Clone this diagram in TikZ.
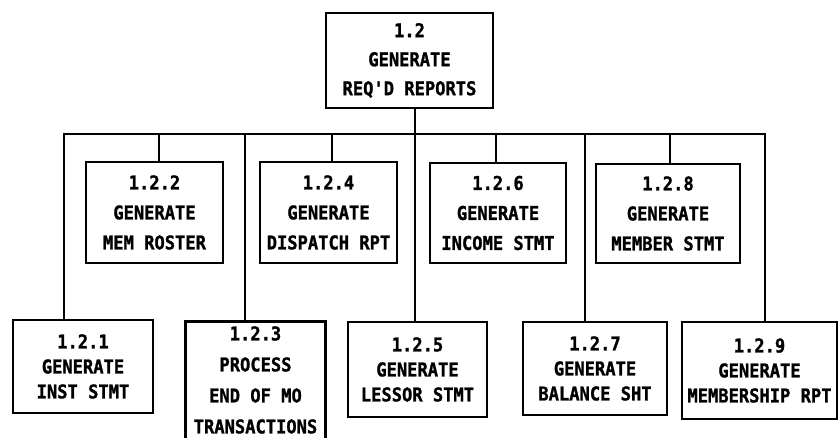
\documentclass[tikz,border=0pt]{standalone}
\usepackage{fontspec}
\newfontfamily\dmfont[FakeStretch=0.9,FakeBold=1.2]{DejaVu Sans Mono}
\begin{document}
\begin{tikzpicture}[x=1pt,y=-1pt,
  box/.style={draw, line width=2.8pt, align=center, inner sep=0pt,
    font=\dmfont\bfseries\fontsize{19}{30}\selectfont},
  topbox/.style={box, font=\dmfont\bfseries\fontsize{19}{29}\selectfont},
  lowbox/.style={box, font=\dmfont\bfseries\fontsize{19}{25}\selectfont},
  openbox/.style={align=center, inner sep=0pt,
    font=\dmfont\bfseries\fontsize{19}{31}\selectfont},
  wire/.style={line width=2.8pt}]
\useasboundingbox (0,0) rectangle (838,438);
\clip (0,0) rectangle (838,438);
% top
\node[topbox, minimum width=167pt, minimum height=95pt] (n12) at (409.5,60.5) {1.2\\GENERATE\\REQ'D REPORTS};
% upper row
\node[box, minimum width=137pt, minimum height=101pt] (n122) at (154.5,212.5) {1.2.2\\GENERATE\\MEM ROSTER};
\node[box, minimum width=137pt, minimum height=101pt] (n124) at (328.5,212.5) {1.2.4\\GENERATE\\DISPATCH RPT};
\node[box, minimum width=136pt, minimum height=100pt] (n126) at (498,213) {1.2.6\\GENERATE\\INCOME STMT};
\node[box, minimum width=144pt, minimum height=99pt] (n128) at (668,213.5) {1.2.8\\GENERATE\\MEMBER STMT};
% lower row
\node[lowbox, minimum width=140pt, minimum height=93pt] (n121) at (83,366.5) {1.2.1\\GENERATE\\INST STMT};
\node[openbox, minimum width=139pt, minimum height=116pt] (n123) at (255.5,380) {1.2.3\\PROCESS\\END OF MO\\TRANSACTIONS};
\draw[line width=2.8pt] ([yshift=-30pt]n123.south west) -- (n123.north west) -- (n123.north east) -- ([yshift=-30pt]n123.south east);
\node[lowbox, minimum width=139pt, minimum height=95pt] (n125) at (417.5,369.5) {1.2.5\\GENERATE\\LESSOR STMT};
\node[lowbox, minimum width=144pt, minimum height=93pt] (n127) at (595,368.5) {1.2.7\\GENERATE\\BALANCE SHT};
\node[lowbox, minimum width=155pt, minimum height=97pt] (n129) at (759.5,370.5) {1.2.9\\GENERATE\\MEMBERSHIP RPT};
% bus
\coordinate (b1) at (64,134);
\coordinate (b2) at (159,134);
\coordinate (b3) at (245,134);
\coordinate (b4) at (332,134);
\coordinate (b5) at (415,134);
\coordinate (b6) at (496,134);
\coordinate (b7) at (585,134);
\coordinate (b8) at (670,134);
\coordinate (b9) at (765,134);
\draw[wire, line cap=rect] (b1) -- (b9);
\draw[wire] (b5 |- n12.south) -- (b5);
\draw[wire] (b1) -- (b1 |- n121.north);
\draw[wire] (b2) -- (b2 |- n122.north);
\draw[wire] (b3) -- (b3 |- n123.north);
\draw[wire] (b4) -- (b4 |- n124.north);
\draw[wire] (b5) -- (b5 |- n125.north);
\draw[wire] (b6) -- (b6 |- n126.north);
\draw[wire] (b7) -- (b7 |- n127.north);
\draw[wire] (b8) -- (b8 |- n128.north);
\draw[wire] (b9) -- (b9 |- n129.north);
\end{tikzpicture}
\end{document}
